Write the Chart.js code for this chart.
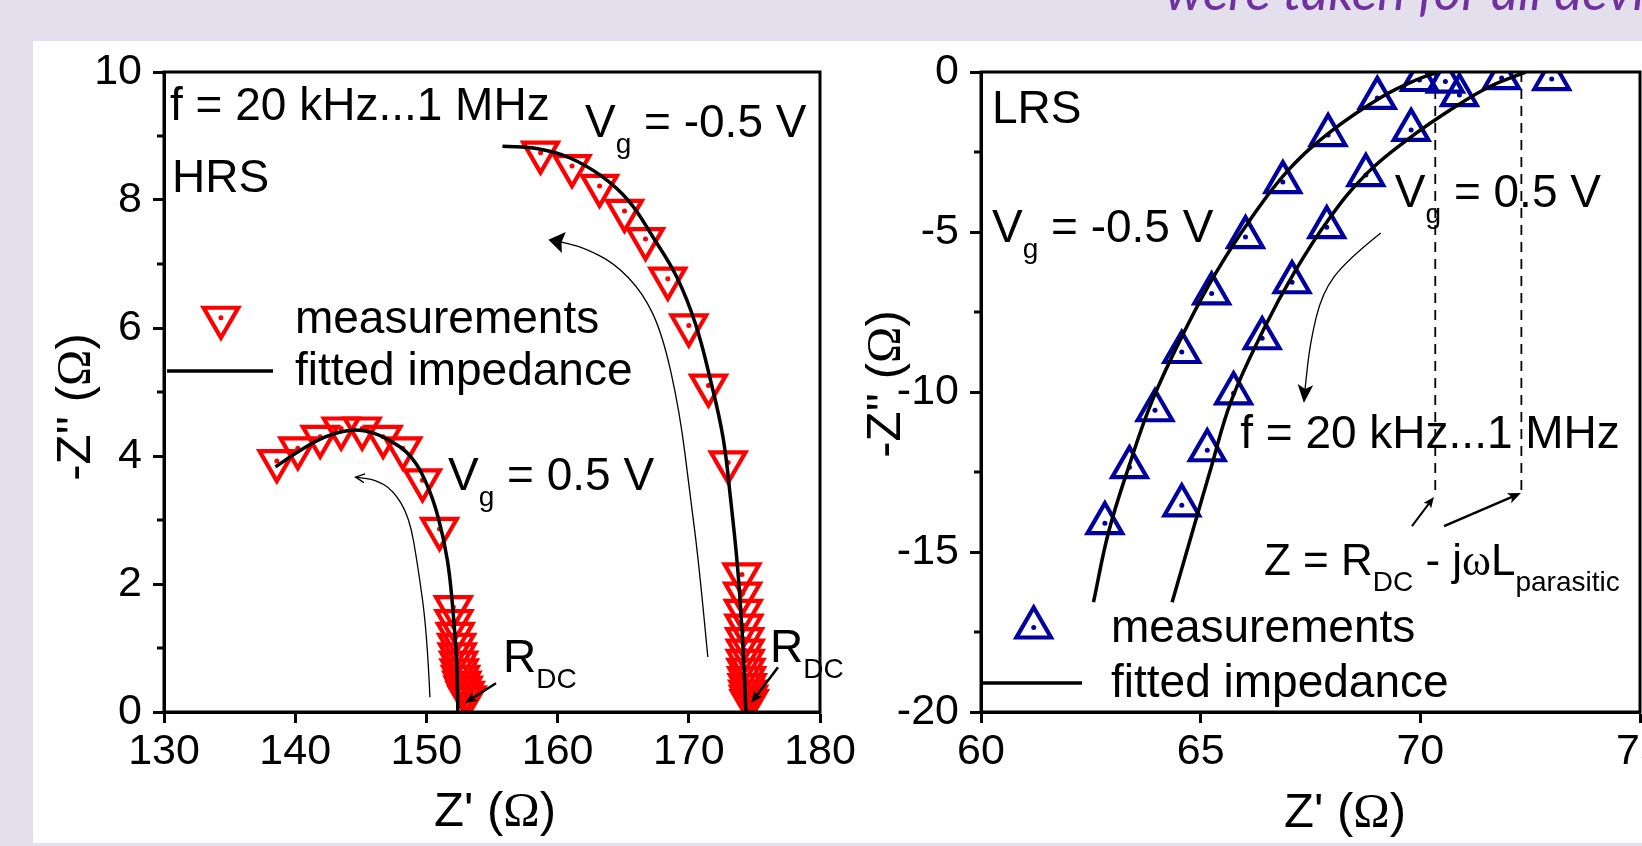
<!DOCTYPE html>
<html>
<head>
<meta charset="utf-8">
<script src="https://cdn.jsdelivr.net/npm/chart.js@4.4.1/dist/chart.umd.min.js"></script>
<style>
    html, body { margin: 0; padding: 0; width: 1642px; height: 846px; overflow: hidden; background: #e4dfec; }
    #panel { position: absolute; left: 33px; top: 41px; width: 1609px; height: 802px; background: #fff; }
    #note { position: absolute; left: 1165px; top: -37px; font: italic 53px Lato, "Open Sans", sans-serif; line-height: 53px; color: #7030a0; white-space: nowrap; }
    .box { position: absolute; top: 0; width: 860px; height: 846px; }
    #boxHrs { left: 0; }
    #boxLrs { left: 860px; }
</style>
</head>
<body>
<div id="panel"></div>
<div id="note">were taken for all devices</div>
<div class="box" id="boxHrs"><canvas id="hrsChart"></canvas></div>
<div class="box" id="boxLrs"><canvas id="lrsChart"></canvas></div>
<script>
// HRS panel (left): Z' / -Z'' in ohm, f = 20 kHz...1 MHz
const hrsNegMeasX = [158.7, 161.1, 163.2, 165.1, 166.7, 168.4, 170.0, 171.5, 173.0, 174.05, 174.1, 174.15, 174.2, 174.25, 174.3, 174.3, 174.35, 174.4, 174.45, 174.5, 174.55, 174.6];
const hrsNegMeasY = [8.74, 8.53, 8.22, 7.83, 7.39, 6.77, 6.04, 5.10, 3.90, 2.15, 1.85, 1.58, 1.35, 1.14, 0.96, 0.80, 0.66, 0.53, 0.42, 0.32, 0.24, 0.17];
const hrsPosMeasX = [138.6, 140.2, 141.9, 143.5, 145.1, 146.7, 148.2, 149.7, 151.0, 152.05, 152.1, 152.2, 152.3, 152.35, 152.45, 152.5, 152.6, 152.7, 152.8, 152.95, 153.1];
const hrsPosMeasY = [3.92, 4.12, 4.30, 4.43, 4.43, 4.30, 4.12, 3.62, 2.86, 1.64, 1.42, 1.22, 1.05, 0.90, 0.77, 0.65, 0.55, 0.46, 0.38, 0.30, 0.23];
const hrsNegFitX = [155.8, 158.5, 160.9, 163.3, 165.4, 167.3, 169.1, 170.5, 171.6, 172.6, 173.2, 173.7, 174.05, 174.25, 174.35];
const hrsNegFitY = [8.84, 8.80, 8.66, 8.38, 7.99, 7.41, 6.79, 6.07, 5.23, 4.30, 3.30, 2.30, 1.30, 0.50, 0.0];
const hrsPosFitX = [138.5, 140.1, 142.2, 144.1, 145.6, 147.3, 148.8, 150.0, 150.9, 151.6, 152.0, 152.3, 152.4];
const hrsPosFitY = [3.83, 4.05, 4.29, 4.40, 4.38, 4.23, 3.99, 3.57, 3.04, 2.37, 1.64, 0.81, 0.0];
const hrsXTicks = [130, 140, 150, 160, 170, 180];
const hrsYTicks = [0, 2, 4, 6, 8, 10];
const hrsYMinor = [1, 3, 5, 7, 9];

// LRS panel (right)
const lrsNegMeasX = [62.82, 63.38, 63.96, 64.57, 65.25, 66.02, 66.87, 67.90, 69.02, 69.98, 70.57];
const lrsNegMeasY = [-14.1, -12.35, -10.57, -8.75, -6.92, -5.16, -3.44, -1.97, -0.81, -0.25, -0.3];
const lrsPosMeasX = [64.57, 65.15, 65.75, 66.40, 67.08, 67.87, 68.76, 69.79, 70.89, 71.85, 72.99];
const lrsPosMeasY = [-13.54, -11.82, -10.04, -8.32, -6.57, -4.85, -3.22, -1.81, -0.72, -0.19, -0.22];
const lrsNegFitX = [62.56, 62.9, 63.36, 63.9, 64.68, 65.34, 66.12, 67.0, 68.01, 69.12, 69.9, 70.4];
const lrsNegFitY = [-16.57, -14.4, -12.35, -10.26, -7.97, -6.29, -4.63, -3.06, -1.81, -0.78, -0.25, 0];
const lrsPosFitX = [64.35, 64.8, 65.24, 65.7, 66.46, 67.12, 67.9, 68.79, 69.79, 70.79, 71.56, 72.23, 72.4];
const lrsPosFitY = [-16.57, -14.43, -12.35, -10.26, -7.97, -6.29, -4.63, -3.16, -2.03, -1.09, -0.47, -0.09, 0];
const lrsXTicks = [60, 65, 70, 75];
const lrsYTicks = [-20, -15, -10, -5, 0];
const lrsYMinor = [-17.5, -12.5, -7.5, -2.5];
const lrsRdc = [70.34, 72.3];   // Z = R_DC - jwL markers

const SANS = '"Liberation Sans", Arial, sans-serif';
const SERIF = '"Liberation Serif", "Times New Roman", serif';
const RED = '#ff0000';
const BLUE = '#0000a0';
const TXT = 46, SUB = 28, TICK = 43, TITLE = 49;
const MARK = 20, MARK_W = 4.2;

const pts = (xs, ys) => xs.map((x, i) => ({ x: x, y: ys[i] }));

// text pieces: plain, subscript, greek
const T = (t) => ({ t: t });
const S = (t) => ({ t: t, sub: true });
const G = (t) => ({ t: t, greek: true });

function partFont(p, size) {
    return (p.sub ? SUB : size) + 'px ' + (p.greek ? SERIF : SANS);
}

function richWidth(ctx, parts, size) {
    let w = 0;
    parts.forEach(p => { ctx.font = partFont(p, size); w += ctx.measureText(p.t).width; });
    return w;
}

function drawRich(ctx, x, y, parts, size) {
    let cx = x;
    parts.forEach(p => {
        ctx.font = partFont(p, size);
        ctx.fillText(p.t, cx, y + (p.sub ? 16 : 0));
        cx += ctx.measureText(p.t).width;
    });
}

function triangle(ctx, x, y, r, down, color) {
    const s = down ? -1 : 1;
    ctx.beginPath();
    ctx.moveTo(x, y - s * r);
    ctx.lineTo(x + r * 0.866, y + s * r / 2);
    ctx.lineTo(x - r * 0.866, y + s * r / 2);
    ctx.closePath();
    ctx.strokeStyle = color;
    ctx.lineWidth = MARK_W;
    ctx.stroke();
    ctx.beginPath();
    ctx.arc(x, y, 2.5, 0, Math.PI * 2);
    ctx.fillStyle = color;
    ctx.fill();
}

// curved arrow through points, head at the last one
function arrow(ctx, p, head, width, open) {
    const n = p.length;
    const tip = p[n - 1], prev = p[n - 2];
    const ang = Math.atan2(tip[1] - prev[1], tip[0] - prev[0]);
    const end = [tip[0] - Math.cos(ang) * head * 0.6, tip[1] - Math.sin(ang) * head * 0.6];
    ctx.beginPath();
    ctx.moveTo(p[0][0], p[0][1]);
    for (let i = 1; i < n - 1; i++) {
        const nx = i + 1 < n - 1 ? p[i + 1] : end;
        ctx.quadraticCurveTo(p[i][0], p[i][1], (p[i][0] + nx[0]) / 2, (p[i][1] + nx[1]) / 2);
    }
    ctx.lineTo(open ? tip[0] : end[0], open ? tip[1] : end[1]);
    ctx.stroke();
    const a1 = ang + Math.PI - width, a2 = ang + Math.PI + width;
    ctx.beginPath();
    ctx.moveTo(tip[0] + Math.cos(a1) * head, tip[1] + Math.sin(a1) * head);
    ctx.lineTo(tip[0], tip[1]);
    ctx.lineTo(tip[0] + Math.cos(a2) * head, tip[1] + Math.sin(a2) * head);
    if (open) {
        ctx.stroke();
    } else {
        ctx.lineTo(tip[0] - Math.cos(ang) * head * 0.7, tip[1] - Math.sin(ang) * head * 0.7);
        ctx.closePath();
        ctx.fill();
    }
}

const decor = {
    id: 'decor',
    beforeDatasetsDraw(chart, args, o) {
        const { ctx, scales: { x, y } } = chart;
        ctx.save();
        ctx.strokeStyle = '#000';
        ctx.lineWidth = 1.8;
        ctx.setLineDash([10, 7]);
        (o.dashes || []).forEach(d => {
            ctx.beginPath();
            ctx.moveTo(x.getPixelForValue(d.x), y.getPixelForValue(d.from));
            ctx.lineTo(x.getPixelForValue(d.x), y.getPixelForValue(d.to));
            ctx.stroke();
        });
        ctx.restore();
    },
    afterDatasetsDraw(chart, args, o) {
        const { ctx, chartArea: a, scales: { x, y } } = chart;
        const px = v => x.getPixelForValue(v), py = v => y.getPixelForValue(v);
        ctx.save();
        ctx.strokeStyle = '#000';
        ctx.fillStyle = '#000';
        // frame and minor ticks
        ctx.lineWidth = 3;
        ctx.strokeRect(a.left, a.top, a.right - a.left, a.bottom - a.top);
        o.minorY.forEach(v => {
            ctx.beginPath();
            ctx.moveTo(a.left, py(v));
            ctx.lineTo(a.left - 7, py(v));
            ctx.stroke();
        });
        // arrows
        o.arrows.forEach(ar => {
            ctx.lineWidth = ar.lw;
            arrow(ctx, ar.path.map(q => [px(q[0]), py(q[1])]), ar.head, ar.spread, ar.open);
        });
        // legend
        const lg = o.legend;
        triangle(ctx, px(lg.mark[0]), py(lg.mark[1]), MARK, lg.down, lg.color);
        ctx.strokeStyle = '#000';
        ctx.fillStyle = '#000';
        ctx.lineWidth = 3.5;
        ctx.beginPath();
        ctx.moveTo(px(lg.line[0]), py(lg.line[2]));
        ctx.lineTo(px(lg.line[1]), py(lg.line[2]));
        ctx.stroke();
        // labels
        ctx.textBaseline = 'alphabetic';
        ctx.textAlign = 'left';
        o.texts.forEach(t => drawRich(ctx, px(t.x), py(t.y), t.parts, t.size || TXT));
        // axis titles
        const xt = o.xTitle, yt = o.yTitle;
        drawRich(ctx, xt.cx - richWidth(ctx, xt.parts, TITLE) / 2, xt.base, xt.parts, TITLE);
        ctx.translate(yt.base, yt.cy);
        ctx.rotate(-Math.PI / 2);
        drawRich(ctx, -richWidth(ctx, yt.parts, TITLE) / 2, 0, yt.parts, TITLE);
        ctx.restore();
    }
};

function measSet(xs, ys, color, down) {
    return {
        data: pts(xs, ys), showLine: false, clip: 0,
        pointStyle: 'triangle', pointRotation: down ? 180 : 0, pointRadius: MARK,
        pointBorderWidth: MARK_W, pointBorderColor: color, pointBackgroundColor: 'rgba(0,0,0,0)'
    };
}
function dotSet(xs, ys, color) {
    return {
        data: pts(xs, ys), showLine: false, clip: 0,
        pointStyle: 'circle', pointRadius: 2.5, pointBorderWidth: 0, pointBackgroundColor: color
    };
}
function fitSet(xs, ys, lw) {
    return {
        data: pts(xs, ys), showLine: true, clip: 0, pointRadius: 0,
        borderColor: '#000', borderWidth: lw, tension: 0.4, fill: false
    };
}

function axis(min, max, ticks, fixed) {
    return {
        type: 'linear', min: min, max: max,
        afterBuildTicks: s => { s.ticks = ticks.map(v => ({ value: v })); },
        afterFit: fixed,
        ticks: { color: '#000', padding: fixed.pad, font: { family: SANS, size: TICK } },
        grid: { drawOnChartArea: false, drawTicks: true, tickLength: 11, tickWidth: 3, tickColor: '#000' },
        border: { display: true, color: '#000', width: 3 }
    };
}
function fixW(w, pad) { const f = s => { s.width = w; }; f.pad = pad; return f; }
function fixH(h, pad) { const f = s => { s.height = h; }; f.pad = pad; return f; }

function makeChart(id, datasets, xs, ys, padding, extras) {
    return new Chart(document.getElementById(id), {
        type: 'scatter',
        data: { datasets: datasets },
        options: {
            responsive: false, animation: false, events: [],
            layout: { padding: padding },
            scales: { x: xs, y: ys },
            plugins: { legend: { display: false }, tooltip: { enabled: false }, decor: extras }
        },
        plugins: [decor]
    });
}

function sizeCanvas(id) {
    const c = document.getElementById(id);
    c.width = 860; c.height = 846;
    c.style.width = '860px'; c.style.height = '846px';
}
sizeCanvas('hrsChart');
sizeCanvas('lrsChart');

// left: chart area 164..820 x 72..712
makeChart('hrsChart', [
    fitSet(hrsNegFitX, hrsNegFitY, 3.5),
    fitSet(hrsPosFitX, hrsPosFitY, 3.5),
    dotSet(hrsNegMeasX, hrsNegMeasY, RED),
    dotSet(hrsPosMeasX, hrsPosMeasY, RED),
    measSet(hrsNegMeasX, hrsNegMeasY, RED, true),
    measSet(hrsPosMeasX, hrsPosMeasY, RED, true)
], axis(130, 180, hrsXTicks, fixH(134, 3)), axis(0, 10, hrsYTicks, fixW(164, 11)),
{ top: 72, right: 40, left: 0, bottom: 0 }, {
    minorY: hrsYMinor,
    arrows: [
        { path: [[171.45, 0.86], [170.8, 2.27], [170.1, 3.4], [169.3, 4.7], [168.0, 5.9], [166.5, 6.55], [164.3, 7.02], [162.0, 7.25], [160.6, 7.33], [159.3, 7.38]], head: 19, spread: 0.6, lw: 1.3 },
        { path: [[150.27, 0.23], [150.05, 1.23], [149.36, 2.27], [148.7, 3.05], [147.45, 3.47], [146.1, 3.63], [144.6, 3.67]], head: 10, spread: 0.45, lw: 1.3, open: true },
        { path: [[155.3, 0.45], [152.95, 0.14]], head: 13, spread: 0.4, lw: 2.5 },
        { path: [[176.8, 0.7], [174.75, 0.14]], head: 13, spread: 0.4, lw: 2.5 }
    ],
    legend: { mark: [134.34, 6.16], down: true, color: RED, line: [130.23, 138.31, 5.33] },
    texts: [
        { x: 130.46, y: 9.25, parts: [T('f = 20 kHz...1 MHz')] },
        { x: 162.09, y: 8.98, parts: [T('V'), S('g'), T(' = -0.5 V')] },
        { x: 130.61, y: 8.125, parts: [T('HRS')] },
        { x: 139.98, y: 5.92, parts: [T('measurements')] },
        { x: 139.98, y: 5.11, parts: [T('fitted impedance')] },
        { x: 151.65, y: 3.47, parts: [T('V'), S('g'), T(' = 0.5 V')] },
        { x: 155.84, y: 0.625, parts: [T('R'), S('DC')] },
        { x: 176.19, y: 0.78, parts: [T('R'), S('DC')] }
    ],
    xTitle: { cx: 495, base: 826, parts: [T("Z' ("), G('\u03a9'), T(')')] },
    yTitle: { base: 90, cy: 407, parts: [T("-Z'' ("), G('\u03a9'), T(')')] }
});

// right: chart area 981..1640 (page) x 72..712
makeChart('lrsChart', [
    fitSet(lrsNegFitX, lrsNegFitY, 3.5),
    fitSet(lrsPosFitX, lrsPosFitY, 3.5),
    dotSet(lrsNegMeasX, lrsNegMeasY, BLUE),
    dotSet(lrsPosMeasX, lrsPosMeasY, BLUE),
    measSet(lrsNegMeasX, lrsNegMeasY, BLUE, false),
    measSet(lrsPosMeasX, lrsPosMeasY, BLUE, false)
], axis(60, 75, lrsXTicks, fixH(134, 3)), axis(-20, 0, lrsYTicks, fixW(121, 11)),
{ top: 72, right: 80, left: 0, bottom: 0 }, {
    minorY: lrsYMinor,
    dashes: lrsRdc.map(v => ({ x: v, from: 0, to: -13.1 })),
    arrows: [
        { path: [[69.10, -5.03], [68.32, -5.88], [67.76, -6.91], [67.49, -8.47], [67.38, -9.84], [67.35, -10.34]], head: 20, spread: 0.4, lw: 1.3 },
        { path: [[69.81, -14.19], [70.31, -13.28]], head: 12, spread: 0.4, lw: 2 },
        { path: [[70.54, -14.19], [72.29, -13.16]], head: 14, spread: 0.4, lw: 2.5 }
    ],
    legend: { mark: [61.2, -17.36], down: false, color: BLUE, line: [60.02, 62.3, -19.09] },
    texts: [
        { x: 60.25, y: -1.59, parts: [T('LRS')] },
        { x: 60.25, y: -5.31, parts: [T('V'), S('g'), T(' = -0.5 V')] },
        { x: 69.42, y: -4.22, parts: [T('V'), S('g'), T(' = 0.5 V')] },
        { x: 65.9, y: -11.75, parts: [T('f = 20 kHz...1 MHz')] },
        { x: 66.44, y: -15.72, size: 44, parts: [T('Z = R'), S('DC'), T(' - j'), G('\u03c9'), T('L'), S('parasitic')] },
        { x: 62.96, y: -17.81, parts: [T('measurements')] },
        { x: 62.96, y: -19.53, parts: [T('fitted impedance')] }
    ],
    xTitle: { cx: 485, base: 827, parts: [T("Z' ("), G('\u03a9'), T(')')] },
    yTitle: { base: 40, cy: 384, parts: [T("-Z'' ("), G('\u03a9'), T(')')] }
});
</script>
</body>
</html>
